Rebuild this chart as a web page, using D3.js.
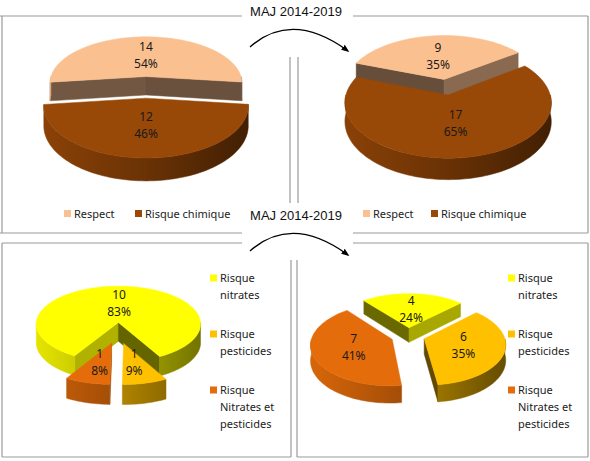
<!DOCTYPE html>
<html>
<head>
<meta charset="utf-8">
<script src="https://cdn.jsdelivr.net/npm/d3@7"></script>
<style>
body { margin: 0; background: #fff; }
svg { display: block; }
</style>
</head>
<body>
<svg id="canvas" width="590" height="461"></svg>
<script>
// data
const titleText = 'MAJ 2014-2019'

const topCategories = ['Respect', 'Risque chimique']
const topColors = ['#FAC090', '#984807']
const topBefore = [14, 12]
const topBeforePct = ['54%', '46%']
const topAfter = [9, 17]
const topAfterPct = ['35%', '65%']

const bottomCategories = ['Risque nitrates', 'Risque pesticides', 'Risque Nitrates et pesticides']
const bottomLegendLines = [['Risque', 'nitrates'], ['Risque', 'pesticides'], ['Risque', 'Nitrates et', 'pesticides']]
const bottomColors = ['#FFFF00', '#FFC000', '#E46C0A']
const bottomBefore = [10, 1, 1]
const bottomBeforePct = ['83%', '9%', '8%']
const bottomAfter = [4, 6, 7]
const bottomAfterPct = ['24%', '35%', '41%']

let svg = d3.select('#canvas')
let defs = svg.append('defs')
let font = "'Noto Sans', 'DejaVu Sans', sans-serif"

// pie look: rotation in degrees, centre, radius, tilt, perspective, thickness, explosion, cut-face shade
let charts = [
    { values: topBefore, pct: topBeforePct, colors: topColors, rot: -97, cx: 146, cy: 87, R: 98, k: 0.49, p: 0.14, h: 19, explode: 22, shade: 2.3 },
    { values: topAfter, pct: topAfterPct, colors: topColors, rot: -70, cx: 446, cy: 87, R: 100, k: 0.52, p: 0.14, h: 18, explode: 15, shade: 2.2 },
    { values: bottomBefore, pct: bottomBeforePct, colors: bottomColors, rot: 211, cx: 118, cy: 333, R: 83, k: 0.464, p: 0.04, h: 19, explode: 23, shade: 1.8 },
    { values: bottomAfter, pct: bottomAfterPct, colors: bottomColors, rot: -39, cx: 408, cy: 336, R: 80, k: 0.5, p: 0.12, h: 15, explode: 17, shade: 1.8 }
]

let drawPie = (cfg, idx) => {
    let g = svg.append('g').attr('id', 'pie' + idx)
    let a0 = cfg.rot * Math.PI / 180
    let pie = d3.pie().sort(null).startAngle(a0).endAngle(a0 + 2 * Math.PI)
    let arcs = pie(cfg.values)

    let proj = (X, Z, Y) => {
        let f = 1 / (1 - cfg.p * Z / cfg.R)
        return [cfg.cx + X * f, cfg.cy + (Z * cfg.k + Y) * f]
    }
    let pt = (d, a, r, Y) => proj(d.ox + r * Math.sin(a), d.oz - r * Math.cos(a), Y)
    let arcPts = (d, s, e, Y) => {
        let n = Math.max(2, Math.ceil(Math.abs(e - s) / (Math.PI / 90)))
        return d3.range(n + 1).map(j => pt(d, s + (e - s) * j / n, cfg.R, Y))
    }
    let line = d3.line()

    arcs.forEach((d, i) => {
        d.mid = (d.startAngle + d.endAngle) / 2
        d.ox = cfg.explode * Math.sin(d.mid)
        d.oz = -cfg.explode * Math.cos(d.mid)
        d.color = d3.color(cfg.colors[i])
        let grad = defs.append('linearGradient')
            .attr('id', 'wall' + idx + '-' + i)
            .attr('gradientUnits', 'userSpaceOnUse')
            .attr('x1', cfg.cx - cfg.R * 1.15).attr('x2', cfg.cx + cfg.R * 1.15)
            .attr('y1', 0).attr('y2', 0)
        grad.append('stop').attr('offset', '0%').attr('stop-color', d.color.darker(0.2))
        grad.append('stop').attr('offset', '50%').attr('stop-color', d.color.darker(1.0))
        grad.append('stop').attr('offset', '100%').attr('stop-color', d.color.darker(2.5))
    })

    // back slices first
    let order = arcs.map((d, i) => i).sort((a, b) => -Math.cos(arcs[a].mid) + Math.cos(arcs[b].mid))

    order.forEach((i) => {
        let d = arcs[i]
        let sg = g.append('g')

        // cut faces
        let faces = []
        if (Math.sin(d.startAngle) < 0) faces.push({ a: d.startAngle, nx: -Math.cos(d.startAngle) })
        if (Math.sin(d.endAngle) > 0) faces.push({ a: d.endAngle, nx: Math.cos(d.endAngle) })
        faces.forEach((fc) => {
            let c = d.color.darker(cfg.shade - 0.9 * fc.nx)
            let pts = [pt(d, 0, 0, 0), pt(d, fc.a, cfg.R, 0), pt(d, fc.a, cfg.R, cfg.h), pt(d, 0, 0, cfg.h)]
            sg.append('path')
                .attr('d', line(pts) + 'Z')
                .attr('fill', c)
                .attr('stroke', c)
                .attr('stroke-width', 0.5)
        })

        // outer wall, front half only
        for (let n = -1; n <= 2; n++) {
            let lo = Math.PI / 2 + 2 * Math.PI * n
            let hi = 3 * Math.PI / 2 + 2 * Math.PI * n
            let s = Math.max(d.startAngle, lo)
            let e = Math.min(d.endAngle, hi)
            if (e > s) {
                let pts = arcPts(d, s, e, 0).concat(arcPts(d, e, s, cfg.h))
                sg.append('path')
                    .attr('d', line(pts) + 'Z')
                    .attr('fill', 'url(#wall' + idx + '-' + i + ')')
                    .attr('stroke', 'url(#wall' + idx + '-' + i + ')')
                    .attr('stroke-width', 0.5)
            }
        }

        // top face
        let topPts = [pt(d, 0, 0, 0)].concat(arcPts(d, d.startAngle, d.endAngle, 0))
        sg.append('path')
            .attr('d', line(topPts) + 'Z')
            .attr('fill', d.color)
            .attr('stroke', d.color)
            .attr('stroke-width', 0.5)
    })

    // data labels
    arcs.forEach((d, i) => {
        let [x, y] = pt(d, d.mid, cfg.R * 0.5, 0)
        g.append('text')
            .attr('x', x).attr('y', y - 4.5)
            .attr('text-anchor', 'middle')
            .attr('font-family', font).attr('font-size', 12)
            .attr('fill', '#1a1a1a')
            .text(cfg.values[i])
        g.append('text')
            .attr('x', x).attr('y', y + 12.5)
            .attr('text-anchor', 'middle')
            .attr('font-family', font).attr('font-size', 12)
            .attr('fill', '#1a1a1a')
            .text(cfg.pct[i])
    })
}

// panel frames (gaps left around titles and arrows)
let frameLines = [
    [0, 16, 242, 16], [2, 16, 2, 233], [0, 233, 242, 233], [290, 57, 290, 203],
    [353, 16, 588, 16], [588, 16, 588, 233], [353, 233, 588, 233], [298, 57, 298, 203],
    [2, 243, 242, 243], [2, 243, 2, 457], [2, 457, 291, 457], [291, 260, 291, 457],
    [353, 243, 588, 243], [588, 243, 588, 457], [297, 457, 588, 457], [297, 260, 297, 457]
]
svg.append('g')
    .selectAll('line')
    .data(frameLines)
    .enter()
    .append('line')
    .attr('x1', l => l[0]).attr('y1', l => l[1])
    .attr('x2', l => l[2]).attr('y2', l => l[3])
    .attr('stroke', '#9a9a9a')
    .attr('stroke-width', 1.2)

charts.forEach(drawPie)

// titles
;[16, 220].forEach((y) => {
    svg.append('text')
        .attr('x', 296).attr('y', y)
        .attr('text-anchor', 'middle')
        .attr('font-family', "'Liberation Sans', Arial, sans-serif")
        .attr('font-size', 13)
        .attr('fill', '#111')
        .text(titleText)
})

// curved arrows
defs.append('marker')
    .attr('id', 'head')
    .attr('viewBox', '0 0 10 10')
    .attr('refX', 8).attr('refY', 5)
    .attr('markerWidth', 6).attr('markerHeight', 6)
    .attr('orient', 'auto')
    .append('path')
    .attr('d', 'M0,1 L10,5 L0,9 Z')
    .attr('fill', '#000')

;[0, 204].forEach((dy) => {
    svg.append('path')
        .attr('d', `M250,${47 + dy} Q292,${10 + dy} 348,${51 + dy}`)
        .attr('fill', 'none')
        .attr('stroke', '#000')
        .attr('stroke-width', 1.3)
        .attr('marker-end', 'url(#head)')
})

// legends for the top pair
let topLegendX = [[64, 135], [363, 431]]
topLegendX.forEach((xs) => {
    topCategories.forEach((name, i) => {
        svg.append('rect')
            .attr('x', xs[i]).attr('y', 210)
            .attr('width', 7).attr('height', 7)
            .attr('fill', topColors[i])
        svg.append('text')
            .attr('x', xs[i] + 10).attr('y', 217.5)
            .attr('font-family', font).attr('font-size', 11)
            .attr('fill', '#222')
            .text(name)
    })
})

// legends for the bottom pair
let bottomLegendX = [210, 508]
let itemTop = [282, 338, 394]
bottomLegendX.forEach((x) => {
    bottomLegendLines.forEach((lines, i) => {
        svg.append('rect')
            .attr('x', x).attr('y', itemTop[i] - 7.5)
            .attr('width', 7).attr('height', 7)
            .attr('fill', bottomColors[i])
        lines.forEach((t, j) => {
            svg.append('text')
                .attr('x', x + 10).attr('y', itemTop[i] + j * 16.8)
                .attr('font-family', font).attr('font-size', 11)
                .attr('fill', '#222')
                .text(t)
        })
    })
})
</script>
</body>
</html>
